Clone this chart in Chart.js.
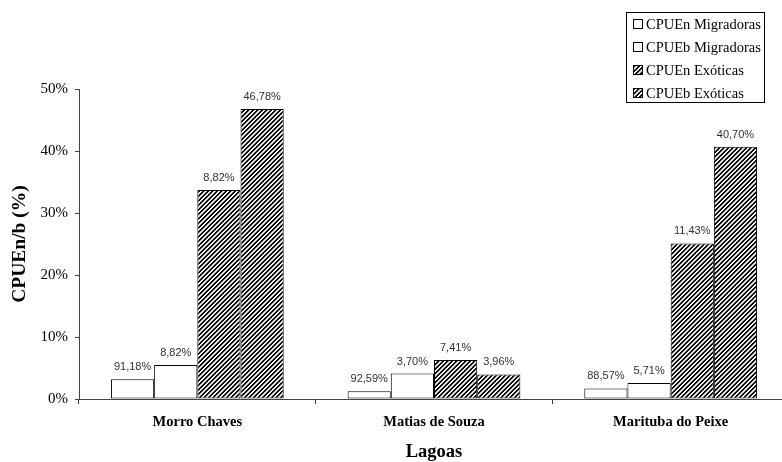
<!DOCTYPE html>
<html>
<head>
<meta charset="utf-8">
<script src="https://cdn.jsdelivr.net/npm/chart.js@4"></script>
<style>
    html, body { margin: 0; padding: 0; background: #fff; overflow: hidden; }
    #wrap { position: absolute; left: 0; top: 0; width: 790px; height: 462px; }
</style>
</head>
<body>
<div id="wrap"><canvas id="myChart" width="790" height="462"></canvas></div>
<script>
const lagoas = ['Morro Chaves', 'Matias de Souza', 'Marituba do Peixe'];
const seriesNames = ['CPUEn Migradoras', 'CPUEb Migradoras', 'CPUEn Exóticas', 'CPUEb Exóticas'];

// bar heights (% of CPUE)
const cpuenMigradoras = [3.2, 1.25, 1.7];
const cpuebMigradoras = [5.5, 4.1, 2.6];
const cpuenExoticas = [33.7, 6.3, 25.1];
const cpuebExoticas = [46.78, 3.96, 40.70];

// text printed over each bar
const rotMigradorasN = ['91,18%', '92,59%', '88,57%'];
const rotMigradorasB = ['8,82%', '3,70%', '5,71%'];
const rotExoticasN = ['8,82%', '7,41%', '11,43%'];
const rotExoticasB = ['46,78%', '3,96%', '40,70%'];

const yTicks = [0, 10, 20, 30, 40, 50];

const serif = '"Liberation Serif", "Times New Roman", serif';
const sans = '"Liberation Sans", Arial, sans-serif';

const canvas = document.getElementById('myChart');
const ctx = canvas.getContext('2d');

// diagonal black/white stripes
function hatch() {
    const size = 9;
    const c = document.createElement('canvas');
    c.width = size;
    c.height = size;
    const g = c.getContext('2d');
    const img = g.createImageData(size, size);
    for (let y = 0; y < size; y++) {
        for (let x = 0; x < size; x++) {
            let v = 0.5 + 0.9 * Math.cos(2 * Math.PI * (x + y) / 4.5);
            v = Math.max(0, Math.min(1, v));
            const k = (y * size + x) * 4;
            img.data[k] = img.data[k + 1] = img.data[k + 2] = Math.round(v * 255);
            img.data[k + 3] = 255;
        }
    }
    g.putImageData(img, 0, 0);
    return ctx.createPattern(c, 'repeat');
}
const stripes = hatch();

const barLabels = [rotMigradorasN, rotMigradorasB, rotExoticasN, rotExoticasB];

const valueLabels = {
    id: 'valueLabels',
    afterDatasetsDraw(chart) {
        const c = chart.ctx;
        c.save();
        c.font = '11px ' + sans;
        c.fillStyle = '#333';
        c.textAlign = 'center';
        c.textBaseline = 'middle';
        chart.data.datasets.forEach((ds, i) => {
            chart.getDatasetMeta(i).data.forEach((bar, j) => {
                c.fillText(barLabels[i][j], bar.x, bar.y - 12);
            });
        });
        c.restore();
    }
};

// legend box in the top right corner
const boxLegend = {
    id: 'boxLegend',
    afterDraw(chart) {
        const c = chart.ctx;
        const x = 626.5, y = 12.5, w = 138, h = 90;
        c.save();
        c.fillStyle = '#fff';
        c.fillRect(x, y, w, h);
        c.strokeStyle = '#000';
        c.lineWidth = 1;
        c.strokeRect(x, y, w, h);
        c.font = '14.5px ' + serif;
        c.textBaseline = 'middle';
        c.textAlign = 'left';
        chart.data.datasets.forEach((ds, i) => {
            const cy = 24 + i * 23;
            c.fillStyle = ds.backgroundColor;
            c.fillRect(633, cy - 5, 9, 9);
            c.strokeStyle = '#000';
            c.strokeRect(633.5, cy - 4.5, 9, 9);
            c.fillStyle = '#000';
            c.fillText(ds.label, 646, cy + 1);
        });
        c.restore();
    }
};

const data = {
    labels: lagoas,
    datasets: [
        { label: seriesNames[0], data: cpuenMigradoras, backgroundColor: '#fff' },
        { label: seriesNames[1], data: cpuebMigradoras, backgroundColor: '#fff' },
        { label: seriesNames[2], data: cpuenExoticas, backgroundColor: stripes },
        { label: seriesNames[3], data: cpuebExoticas, backgroundColor: stripes },
    ]
};

const config = {
    type: 'bar',
    data: data,
    options: {
        responsive: false,
        devicePixelRatio: 1,
        animation: false,
        layout: { padding: { top: 89, right: 1, left: 0, bottom: 0 } },
        datasets: {
            bar: {
                borderColor: '#000',
                borderWidth: 1,
                borderSkipped: false,
                barPercentage: 1,
                categoryPercentage: 0.73
            }
        },
        plugins: {
            legend: { display: false },
            tooltip: { enabled: false }
        },
        scales: {
            x: {
                offset: true,
                grid: { display: true, drawOnChartArea: false, offset: true, tickLength: 5, color: '#444' },
                border: { color: '#444' },
                ticks: { color: '#000', font: { family: serif, size: 14.5, weight: 'bold' }, padding: 10 },
                title: {
                    display: true, text: 'Lagoas', color: '#000',
                    font: { family: serif, size: 18.5, weight: 'bold', lineHeight: 1.1 },
                    padding: { top: 0, bottom: 0 }
                },
                afterFit(scale) { scale.height = 63; }
            },
            y: {
                min: 0,
                max: 50,
                afterBuildTicks(scale) { scale.ticks = yTicks.map(v => ({ value: v })); },
                grid: { display: true, drawOnChartArea: false, tickLength: 4, color: '#444' },
                border: { color: '#444' },
                ticks: {
                    color: '#000', padding: 7,
                    font: { family: serif, size: 15 },
                    callback: v => v + '%'
                },
                title: {
                    display: true, text: 'CPUEn/b (%)', color: '#000',
                    font: { family: serif, size: 19.5, weight: 'bold' },
                    padding: { top: 8, bottom: 0 }
                },
                afterFit(scale) { scale.width = 79; }
            }
        }
    },
    plugins: [valueLabels, boxLegend]
};

const myChart = new Chart(canvas, config);
</script>
</body>
</html>
